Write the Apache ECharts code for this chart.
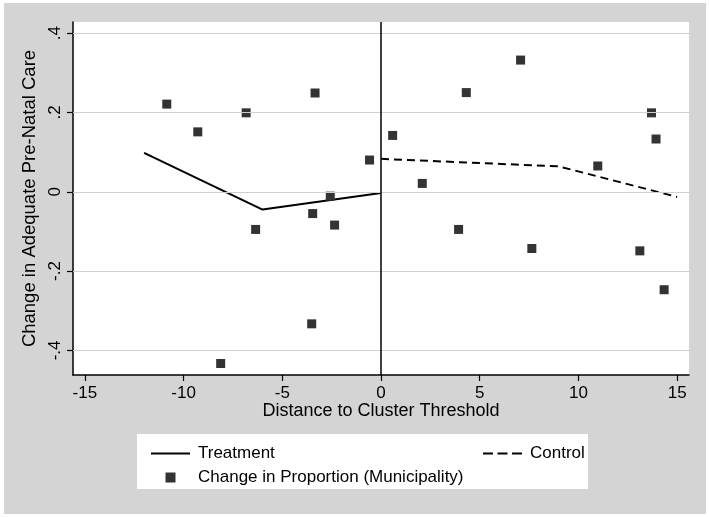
<!DOCTYPE html>
<html>
<head>
<meta charset="utf-8">
<script src="https://cdn.jsdelivr.net/npm/echarts@6/dist/echarts.min.js"></script>
<style>
html,body{margin:0;padding:0;background:#fff;}
#c{width:709px;height:517px;}
</style>
</head>
<body>
<div id="c"></div>
<script>
// ---- data ----
const scatterX = [-10.85, -9.28, -6.83, -6.35, -3.34, -3.46, -2.57, -2.35, -0.58, 0.59, 2.09, 4.32, 7.07, 3.93, 7.64, 10.98, 13.70, 13.93, 13.11, 14.34, -3.51, -8.12];
const scatterY = [0.221, 0.151, 0.199, -0.095, 0.249, -0.055, -0.011, -0.084, 0.080, 0.142, 0.021, 0.250, 0.332, -0.095, -0.143, 0.065, 0.199, 0.133, -0.149, -0.247, -0.333, -0.433];
const treatX = [-12, -6, 0];
const treatY = [0.098, -0.045, -0.003];
const controlX = [0, 9, 15];
const controlY = [0.083, 0.064, -0.013];
const xTicks = [-15, -10, -5, 0, 5, 10, 15];
const yTicks = [-0.4, -0.2, 0, 0.2, 0.4];
const yTickLabels = ['-.4', '-.2', '0', '.2', '.4'];
const cutoff = 0;

const zip = (a, b) => a.map((v, i) => [v, b[i]]);
const FONT = 'Liberation Sans, Arial, sans-serif';
const ICON_SOLID = 'path://M0,0h39v2h-39z';
const ICON_DASH = 'path://M0,0h10v2h-10zM14.5,0h10v2h-10zM29,0h10v2h-10z';
const ICON_SQUARE = 'path://M0,0h1v1h-1z';

const chart = echarts.init(document.getElementById('c'));
chart.setOption({
  animation: false,
  textStyle: { fontFamily: FONT },
  graphic: [
    { type: 'rect', z: -10, shape: { x: 4, y: 3, width: 702, height: 511 }, style: { fill: '#d4d4d4' } },
    { type: 'rect', z: -5, shape: { x: 137, y: 434, width: 451, height: 55 }, style: { fill: '#ffffff' } }
  ],
  grid: { left: 73, top: 22, right: 20, bottom: 142, show: true, backgroundColor: '#ffffff', borderWidth: 0 },
  xAxis: {
    type: 'value', min: -15.6, max: 15.6,
    name: 'Distance to Cluster Threshold', nameLocation: 'middle', nameGap: 27, nameMoveOverlap: false,
    nameTextStyle: { color: '#000', fontSize: 18, fontFamily: FONT },
    axisLine: { onZero: false, lineStyle: { color: '#000', width: 1.5 } },
    axisTick: { customValues: xTicks, length: 6, lineStyle: { color: '#000', width: 1.2 } },
    axisLabel: { customValues: xTicks, color: '#000', fontSize: 17, margin: 10, fontFamily: FONT },
    splitLine: { show: false }
  },
  yAxis: {
    type: 'value', min: -0.462, max: 0.428,
    name: 'Change in Adequate Pre-Natal Care', nameLocation: 'middle', nameGap: 20, nameRotate: 90,
    nameTextStyle: { color: '#000', fontSize: 18.5, fontFamily: FONT },
    axisLine: { onZero: false, lineStyle: { color: '#000', width: 1.5 } },
    axisTick: { customValues: yTicks, length: 6, lineStyle: { color: '#000', width: 1.2 } },
    axisLabel: {
      customValues: yTicks, color: '#000', fontSize: 17, margin: 9, rotate: 90, fontFamily: FONT,
      formatter: v => { const i = yTicks.findIndex(t => Math.abs(t - v) < 1e-9); return i >= 0 ? yTickLabels[i] : ''; }
    },
    splitLine: { show: false }
  },
  legend: [
    {
      orient: 'vertical', left: 146, top: 440, itemWidth: 39, itemHeight: 10, itemGap: 7,
      textStyle: { color: '#000', fontSize: 17, fontFamily: FONT, padding: [0, 0, 0, 3] },
      data: [
        { name: 'Treatment', icon: ICON_SOLID, itemStyle: { color: '#000' } },
        { name: 'Change in Proportion (Municipality)', icon: ICON_SQUARE, itemStyle: { color: '#333333' } }
      ]
    },
    {
      orient: 'vertical', left: 478, top: 440, itemWidth: 39, itemHeight: 10,
      textStyle: { color: '#000', fontSize: 17, fontFamily: FONT, padding: [0, 0, 0, 3] },
      data: [{ name: 'Control', icon: ICON_DASH, itemStyle: { color: '#000' } }]
    }
  ],
  series: [
    {
      name: 'gridlines', type: 'line', data: [], silent: true,
      markLine: {
        silent: true, symbol: 'none', label: { show: false },
        lineStyle: { color: '#cfcfcf', type: 'solid', width: 1.2 },
        data: yTicks.map(v => ({ yAxis: v }))
      }
    },
    {
      name: 'Change in Proportion (Municipality)', type: 'scatter', symbol: 'rect', symbolSize: 9,
      itemStyle: { color: '#333333', opacity: 1 }, z: 4,
      data: zip(scatterX, scatterY)
    },
    {
      name: 'Treatment', type: 'line', symbol: 'none', z: 3,
      lineStyle: { color: '#000', width: 2, type: 'solid' },
      itemStyle: { color: '#000' },
      data: zip(treatX, treatY),
      markLine: {
        silent: true, symbol: 'none', label: { show: false },
        lineStyle: { color: '#000', type: 'solid', width: 1.5 },
        data: [{ xAxis: cutoff }]
      }
    },
    {
      name: 'Control', type: 'line', symbol: 'none', z: 3,
      lineStyle: { color: '#000', width: 2, type: [8, 5] },
      itemStyle: { color: '#000' },
      data: zip(controlX, controlY)
    }
  ]
});
</script>
</body>
</html>
